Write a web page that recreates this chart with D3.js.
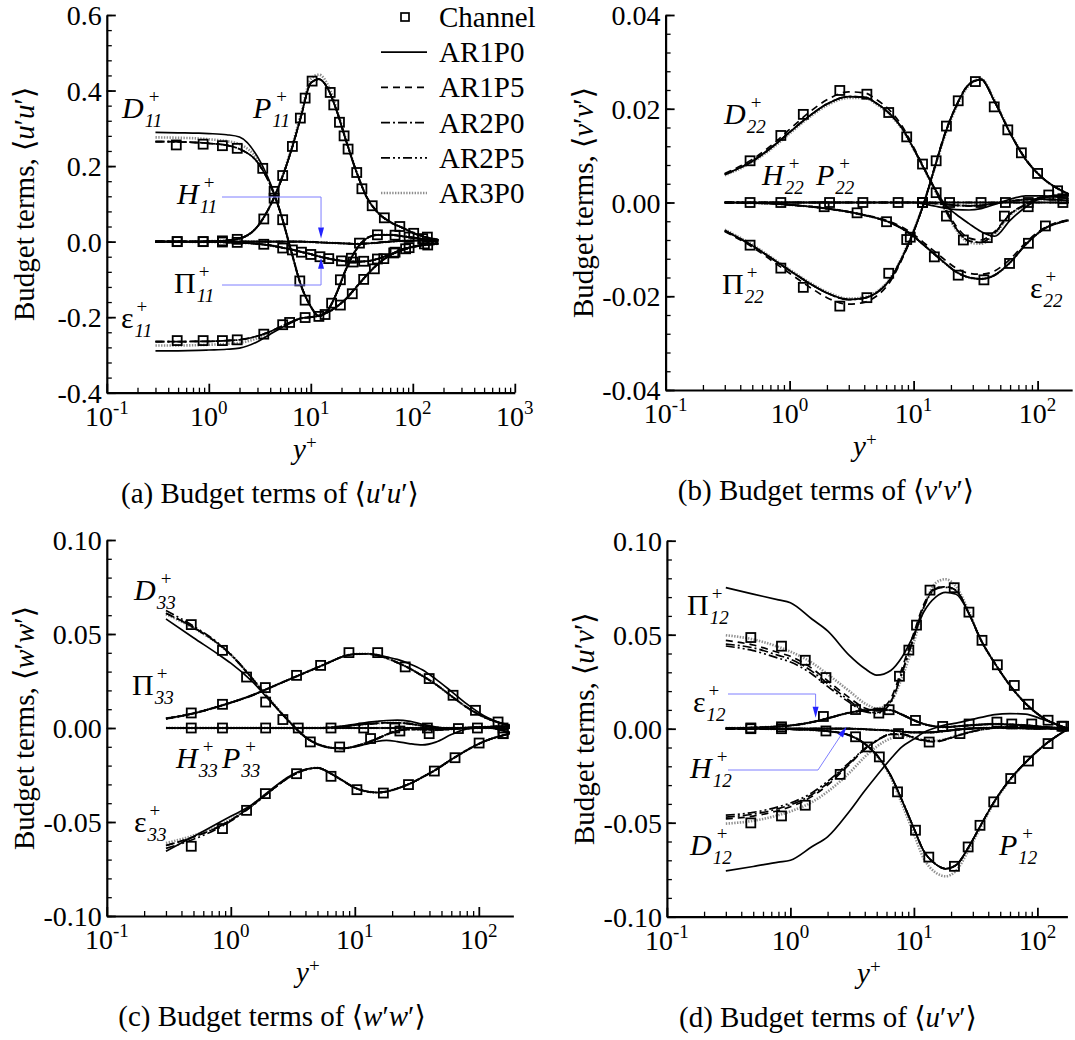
<!DOCTYPE html>
<html>
<head>
<meta charset="utf-8">
<title>Budget terms of Reynolds stresses</title>
<script src="https://cdn.jsdelivr.net/npm/d3@7/dist/d3.min.js"></script>
<style>
  html, body { margin: 0; padding: 0; background: #fff; }
  svg { display: block; background: #fff; }
  text { font-family: "Liberation Serif", "Times New Roman", Times, "DejaVu Serif", serif; fill: #000; }
</style>
</head>
<body>
<svg id="fig" width="1075" height="1040"></svg>
<script>
// ---------------------------------------------------------------------------
// Wall-normal grid of the simulation profiles (y+)
const yPlus = [0.3, 0.5, 0.8, 1.0, 1.5, 2, 3, 4, 5, 6.5, 8, 10, 12, 15, 18, 22, 28, 35, 45, 60, 80, 110, 178];
const caseNames = ["AR1P0", "AR1P5", "AR2P0", "AR2P5", "AR3P0"];

// ---- <u'u'> budget --------------------------------------------------------
const uuP       = [0,0,0,0.001,0.003,0.008,0.04,0.095,0.155,0.245,0.33,0.42,0.43,0.40,0.345,0.27,0.185,0.12,0.078,0.052,0.036,0.019,0.005];
const uuP_AR3P0 = [0,0,0,0.001,0.003,0.008,0.04,0.095,0.157,0.25,0.338,0.43,0.442,0.41,0.35,0.272,0.186,0.12,0.078,0.052,0.036,0.019,0.005];
const uuD_AR1P0 = [0.289,0.288,0.287,0.286,0.283,0.277,0.225,0.155,0.08,-0.03,-0.115,-0.172,-0.197,-0.178,-0.135,-0.075,-0.02,0.008,0.018,0.018,0.014,0.009,0.004];
const uuD_mid   = [0.265,0.264,0.262,0.26,0.255,0.245,0.21,0.15,0.08,-0.03,-0.115,-0.172,-0.197,-0.178,-0.135,-0.075,-0.02,0.008,0.018,0.018,0.014,0.009,0.004];
const uuD_AR3P0 = [0.276,0.275,0.273,0.271,0.266,0.258,0.218,0.153,0.08,-0.03,-0.115,-0.172,-0.197,-0.178,-0.135,-0.075,-0.02,0.008,0.018,0.018,0.014,0.009,0.004];
const uuE_AR1P0 = [-0.289,-0.289,-0.288,-0.287,-0.285,-0.282,-0.265,-0.245,-0.23,-0.214,-0.203,-0.2,-0.196,-0.186,-0.172,-0.152,-0.12,-0.09,-0.06,-0.036,-0.02,-0.012,-0.006];
const uuE_mid   = [-0.265,-0.265,-0.264,-0.264,-0.262,-0.26,-0.25,-0.238,-0.226,-0.212,-0.203,-0.2,-0.196,-0.186,-0.172,-0.152,-0.12,-0.09,-0.06,-0.036,-0.02,-0.012,-0.006];
const uuE_AR3P0 = [-0.275,-0.275,-0.274,-0.273,-0.271,-0.268,-0.256,-0.241,-0.228,-0.213,-0.203,-0.2,-0.196,-0.186,-0.172,-0.152,-0.12,-0.09,-0.06,-0.036,-0.02,-0.012,-0.006];
const uuPi      = [0,0,-0.001,-0.001,-0.002,-0.003,-0.006,-0.01,-0.015,-0.021,-0.027,-0.033,-0.039,-0.045,-0.049,-0.052,-0.053,-0.052,-0.046,-0.034,-0.022,-0.011,-0.003];
const uuH       = [0,0,0,0,0,0,0,0,0,0,0,-0.001,-0.002,-0.003,-0.004,-0.005,-0.006,-0.005,-0.003,0,0.002,0.003,0.001];

const chUU_P_y  = [0.49,0.88,1.36,1.9,3.46,4.37,5.3,6.6,7.9,8.8,10.3,15.5,16.8,19.1,21.2,23.2,28.2,31.7,40,52.6,74.6,102,139];
const chUU_P    = [0,0,0.002,0.006,0.06,0.115,0.175,0.252,0.327,0.38,0.425,0.395,0.362,0.316,0.28,0.245,0.183,0.14,0.095,0.063,0.04,0.022,0.012];
const chUU_D_y  = [0.48,0.88,1.36,1.9,3.38,4.37,5.3,7.8,8.8,12,16,19.5,25,30,45,67,92,125];
const chUU_D    = [0.256,0.258,0.254,0.247,0.194,0.133,0.058,-0.104,-0.155,-0.198,-0.163,-0.101,-0.044,-0.004,0.018,0.017,0.012,0.008];
const chUU_E_y  = [0.49,0.88,1.36,1.9,3.46,5.3,6.2,8.8,13.8,19.5,25.5,33,42,52,65,85,140];
const chUU_E    = [-0.262,-0.262,-0.262,-0.26,-0.245,-0.22,-0.214,-0.201,-0.193,-0.168,-0.138,-0.1,-0.072,-0.045,-0.03,-0.019,-0.009];
const chUU_Pi_y = [0.49,0.88,1.36,1.9,3.46,5.3,6.6,8.1,10,12.3,15,20,26,33,45,67,92,130];
const chUU_Pi   = [0,0,-0.001,-0.002,-0.007,-0.017,-0.022,-0.028,-0.034,-0.04,-0.045,-0.051,-0.054,-0.052,-0.046,-0.028,-0.016,-0.006];

// ---- <v'v'> budget --------------------------------------------------------
const vvD_AR1P0 = [0.006,0.0088,0.0128,0.015,0.0188,0.021,0.0226,0.0225,0.0212,0.0188,0.016,0.0115,0.0075,0.0028,-0.0005,-0.0025,-0.0045,-0.0062,-0.0072,-0.0038,-0.001,0.001,0.0014];
const vvD_AR1P5 = [0.0062,0.0092,0.0133,0.0156,0.0196,0.0219,0.0236,0.0234,0.022,0.0195,0.0165,0.0118,0.0077,0.0027,-0.0012,-0.005,-0.0076,-0.008,-0.0062,-0.0024,-0.0004,0.0012,0.0015];
const vvD_mid   = [0.006,0.0088,0.0128,0.015,0.0188,0.021,0.0226,0.0225,0.0212,0.0188,0.016,0.0115,0.0075,0.0025,-0.0015,-0.0055,-0.0082,-0.0085,-0.0065,-0.0025,-0.0005,0.0012,0.0015];
const vvD_AR3P0 = [0.0058,0.0086,0.0125,0.0147,0.0185,0.0207,0.0223,0.0223,0.021,0.0186,0.0158,0.0114,0.0074,0.0024,-0.0017,-0.0058,-0.0085,-0.0088,-0.0068,-0.0027,-0.0006,0.0011,0.0016];
const vvPi_AR1P5 = [-0.0062,-0.0095,-0.0133,-0.0151,-0.0183,-0.0203,-0.0217,-0.0213,-0.02,-0.0168,-0.0123,-0.0063,-0.0004,0.0082,0.015,0.0206,0.0253,0.0263,0.0216,0.0149,0.0093,0.0052,0.0018];
const vvPi_mid   = [-0.006,-0.0092,-0.0128,-0.0145,-0.0175,-0.0193,-0.0207,-0.0204,-0.0193,-0.0163,-0.012,-0.0062,-0.0005,0.008,0.0148,0.0205,0.0252,0.0262,0.0215,0.0148,0.0092,0.0052,0.0018];
const vvPi_AR3P0 = [-0.0058,-0.009,-0.0126,-0.0143,-0.0173,-0.0191,-0.0205,-0.0202,-0.0191,-0.0161,-0.0118,-0.006,-0.0004,0.0078,0.0145,0.0202,0.025,0.0264,0.0218,0.015,0.0093,0.0052,0.0018];
const vvE_AR1P5 = [0,-0.0001,-0.0003,-0.0005,-0.0009,-0.0013,-0.002,-0.0026,-0.0032,-0.0041,-0.0052,-0.0068,-0.0085,-0.0106,-0.0123,-0.014,-0.0151,-0.0153,-0.0146,-0.0121,-0.0086,-0.0056,-0.0037];
const vvE_mid   = [0,-0.0001,-0.0003,-0.0005,-0.0009,-0.0013,-0.002,-0.0027,-0.0033,-0.0043,-0.0055,-0.0072,-0.009,-0.0112,-0.013,-0.0148,-0.016,-0.0163,-0.0155,-0.0128,-0.009,-0.0058,-0.0038];
const vvP       = [0,0,0,0,0,0,0,0,0,0,0,0,0,0,0,0,0,0,0,0,0,0,0];
const vvH_AR1P0 = [0,0,0,0,0,0,0,0,0,0,0,0,-0.0003,-0.0008,-0.0012,-0.0015,-0.0016,-0.0013,-0.0004,0.0007,0.0014,0.0014,0.0008];
const vvH_mid   = [0,0,0,0,0,0,0,0,0,0,0,0,0,-0.0002,-0.0004,-0.0006,-0.0007,-0.0006,-0.0002,0.0003,0.0006,0.0007,0.0004];

const chVV_D_y  = [0.48,0.85,1.29,2.54,4.2,6.3,8.8,11.8,15.2,18.4,25.2,39.3,54,84,123,160];
const chVV_D    = [0.0089,0.0143,0.0188,0.0239,0.0231,0.0192,0.014,0.0082,0.0021,-0.0029,-0.008,-0.0075,-0.0029,-0.0009,0.0016,0.0008];
const chVV_Pi_y = [0.48,0.85,1.29,2.54,4.2,6.3,8.8,11.8,15.2,18.4,22.9,31.5,44.7,57.5,74,100,145];
const chVV_Pi   = [-0.0091,-0.014,-0.0181,-0.0221,-0.0203,-0.0151,-0.0079,0,0.0089,0.0163,0.0217,0.0258,0.0204,0.0155,0.0106,0.0062,0.0025];
const chVV_E_y  = [1.9,3.5,6.05,9.4,14.7,22.9,36.9,59.4,84.3,115.6];
const chVV_E    = [-0.0009,-0.0022,-0.0041,-0.0074,-0.0116,-0.0155,-0.0165,-0.013,-0.0087,-0.005];
const chVV_P_y  = [0.48,0.85,2.1,3.9,7.5,11.8,19.5,35,55,84,160];
const chVV_P    = [0,0,0,0,0,0,0,0,0,0,0];

// ---- <w'w'> budget --------------------------------------------------------
const wwD_AR1P0 = [0.058,0.048,0.039,0.0345,0.0245,0.0155,0.003,-0.0048,-0.0088,-0.0106,-0.0108,-0.01,-0.0088,-0.0072,-0.0066,-0.0072,-0.0084,-0.009,-0.0075,-0.0035,-0.0005,0.0005,-0.0025];
const wwD_mid   = [0.061,0.0535,0.0445,0.039,0.026,0.016,0.003,-0.005,-0.0085,-0.0105,-0.0108,-0.0098,-0.0082,-0.0058,-0.0035,-0.0015,-0.0008,-0.0008,-0.001,-0.0006,0.0002,0.0005,-0.0025];
const wwD_AR2P5 = [0.0625,0.0542,0.0449,0.0392,0.0261,0.016,0.003,-0.005,-0.0085,-0.0105,-0.0108,-0.0098,-0.0082,-0.0058,-0.0035,-0.0015,-0.0008,-0.0008,-0.001,-0.0006,0.0002,0.0005,-0.0025];
const wwD_AR3P0 = [0.0605,0.0532,0.0445,0.039,0.0262,0.0162,0.0032,-0.0048,-0.0085,-0.0105,-0.0108,-0.0098,-0.0082,-0.0058,-0.0035,-0.0015,-0.0008,-0.0008,-0.001,-0.0006,0.0002,0.0005,-0.0025];
const wwPi_AR1P0 = [0.005,0.0078,0.0115,0.0135,0.0175,0.021,0.026,0.0295,0.0322,0.0355,0.038,0.0393,0.0395,0.039,0.0378,0.0365,0.034,0.031,0.026,0.0195,0.0128,0.0065,0.001];
const wwPi_mid   = [0.005,0.0078,0.0115,0.0135,0.0175,0.021,0.026,0.0295,0.0322,0.0355,0.038,0.0393,0.0395,0.0388,0.0372,0.0348,0.0315,0.0278,0.0232,0.017,0.011,0.0058,0.0015];
const wwE_AR1P0 = [-0.0655,-0.0577,-0.0504,-0.047,-0.0405,-0.034,-0.0255,-0.022,-0.0212,-0.0245,-0.028,-0.0318,-0.0335,-0.0343,-0.0338,-0.0322,-0.0295,-0.0262,-0.0222,-0.0168,-0.0118,-0.0072,-0.003];
const wwE_mid   = [-0.0625,-0.058,-0.0525,-0.049,-0.041,-0.0345,-0.026,-0.0222,-0.0212,-0.0245,-0.028,-0.0318,-0.0335,-0.0343,-0.0338,-0.0322,-0.0295,-0.0262,-0.0222,-0.0168,-0.0118,-0.0072,-0.003];
const wwE_AR2P5 = [-0.064,-0.0592,-0.0532,-0.0495,-0.0413,-0.0346,-0.026,-0.0222,-0.0212,-0.0245,-0.028,-0.0318,-0.0335,-0.0343,-0.0338,-0.0322,-0.0295,-0.0262,-0.0222,-0.0168,-0.0118,-0.0072,-0.003];
const wwE_AR3P0 = [-0.0612,-0.0572,-0.052,-0.0486,-0.0408,-0.0343,-0.0259,-0.0222,-0.0212,-0.0245,-0.028,-0.0318,-0.0335,-0.0343,-0.0338,-0.0322,-0.0295,-0.0262,-0.0222,-0.0168,-0.0118,-0.0072,-0.003];
const wwH_AR1P0 = [0,0,0,0,0,0,0,0,0,0.0004,0.001,0.002,0.0028,0.0035,0.004,0.0042,0.0035,0.002,0.0005,-0.0002,-0.0001,0.0005,0.001];
const wwH_mid   = [0,0,0,0,0,0,0,0,0,0.0003,0.0008,0.0015,0.002,0.0025,0.0028,0.0028,0.0022,0.0012,0.0003,-0.0003,-0.0002,0.0005,0.001];
const wwP       = [0,0,0,0,0,0,0,0,0,0,0,0,0,0,0,0,0,0,0,0,0,0,0];

const chWW_D_y  = [0.48,0.857,1.34,1.91,2.63,4.38,7.55,13.4,23.1,39.8,68.5,157];
const chWW_D    = [0.055,0.0413,0.0271,0.0138,0.0045,-0.0074,-0.0101,-0.0056,-0.0016,-0.003,-0.0003,-0.003];
const chWW_Pi_y = [0.48,0.857,1.9,3.39,5.3,8.97,15.3,25.5,39.8,62,94,143];
const chWW_Pi   = [0.008,0.0126,0.0215,0.028,0.0333,0.0401,0.0401,0.0325,0.0263,0.0174,0.0094,0.0032];
const chWW_E_y  = [0.48,0.857,1.34,1.9,3.39,6.43,10.4,17,27.1,43.8,64.3,100.6,157];
const chWW_E    = [-0.0629,-0.0535,-0.0438,-0.0349,-0.0243,-0.0257,-0.0328,-0.0346,-0.0301,-0.0229,-0.0158,-0.008,-0.003];
const chWW_P_y  = [0.48,0.857,1.91,3.5,6.43,11.8,21,38.5,97.5,157];
const chWW_P    = [0,0,0,0,0,0,0,0,0,0];

// ---- <u'v'> budget --------------------------------------------------------
const uvPi_AR1P0 = [0.075,0.0716,0.0685,0.067,0.0582,0.052,0.039,0.032,0.0285,0.031,0.038,0.05,0.062,0.07,0.0725,0.0715,0.061,0.047,0.035,0.023,0.0135,0.006,0];
const uvPi_AR1P5 = [0.047,0.0445,0.0405,0.0385,0.032,0.0255,0.0165,0.011,0.0095,0.016,0.032,0.051,0.066,0.075,0.0755,0.0735,0.061,0.047,0.035,0.023,0.0135,0.006,0];
const uvPi_AR2P0 = [0.045,0.043,0.039,0.037,0.0305,0.024,0.015,0.0095,0.0085,0.0145,0.03,0.049,0.065,0.0745,0.0755,0.0735,0.061,0.047,0.035,0.023,0.0135,0.006,0];
const uvPi_AR2P5 = [0.044,0.0415,0.0375,0.0355,0.029,0.0225,0.014,0.009,0.0082,0.014,0.0295,0.0485,0.0645,0.0742,0.0752,0.0732,0.061,0.047,0.035,0.023,0.0135,0.006,0];
const uvPi_AR3P0 = [0.0497,0.0475,0.0435,0.041,0.035,0.029,0.02,0.0135,0.0108,0.0145,0.027,0.046,0.064,0.0775,0.0795,0.0755,0.062,0.047,0.035,0.023,0.0135,0.006,0];
const uvD_AR1P0 = [-0.0757,-0.0733,-0.071,-0.07,-0.0627,-0.0575,-0.044,-0.033,-0.025,-0.016,-0.0097,-0.0055,-0.002,0.0005,0.002,0.003,0.0045,0.006,0.0075,0.008,0.0078,0.005,0];
const uvD_AR1P5 = [-0.048,-0.0465,-0.0435,-0.0415,-0.036,-0.03,-0.019,-0.011,-0.0065,-0.003,-0.003,-0.005,-0.0065,-0.007,-0.006,-0.004,-0.002,-0.0005,0.0005,0.001,0.001,0.0005,0];
const uvD_AR2P0 = [-0.047,-0.0455,-0.0425,-0.0405,-0.035,-0.029,-0.0185,-0.0108,-0.0064,-0.003,-0.0029,-0.0048,-0.0062,-0.0067,-0.0058,-0.0039,-0.002,-0.0005,0.0005,0.001,0.001,0.0005,0];
const uvD_AR2P5 = [-0.046,-0.0445,-0.0415,-0.0395,-0.034,-0.028,-0.018,-0.0105,-0.0062,-0.0029,-0.0028,-0.0046,-0.006,-0.0065,-0.0056,-0.0038,-0.0019,-0.0005,0.0005,0.001,0.001,0.0005,0];
const uvD_AR3P0 = [-0.0505,-0.049,-0.046,-0.044,-0.039,-0.0335,-0.0235,-0.015,-0.0095,-0.0052,-0.0038,-0.0048,-0.006,-0.0065,-0.0056,-0.0038,-0.0019,-0.0005,0.0005,0.001,0.001,0.0005,0];
const uvP_mid   = [0,0,-0.0002,-0.0003,-0.0007,-0.0013,-0.0035,-0.008,-0.014,-0.025,-0.038,-0.053,-0.065,-0.072,-0.0745,-0.0725,-0.0625,-0.051,-0.0385,-0.027,-0.018,-0.0095,0];
const uvP_AR3P0 = [0,0,-0.0002,-0.0003,-0.0007,-0.0013,-0.0035,-0.0082,-0.0145,-0.026,-0.04,-0.056,-0.069,-0.0765,-0.0785,-0.0755,-0.064,-0.052,-0.039,-0.0275,-0.018,-0.0095,0];
const uvE_mid   = [0.0003,0.0006,0.0012,0.0017,0.0035,0.0055,0.0085,0.0097,0.0102,0.0098,0.0075,0.0045,0.0025,0.0012,0.0008,0.0012,0.0018,0.0022,0.0025,0.0022,0.0018,0.001,0];
const uvH       = [0,0,0,0,0,0,0,-0.0003,-0.0006,-0.001,-0.0015,-0.002,-0.002,-0.0018,-0.0012,-0.0006,0,0.0004,0.0005,0.0004,0.0002,0,0];

const chUV_Pi_y = [0.478,0.847,1.32,1.94,5.2,7.64,9.1,10.5,13.5,21.2,27.9,35.6,47.4,65,84.6,122,158];
const chUV_Pi   = [0.0485,0.0439,0.0364,0.0272,0.0083,0.0279,0.0418,0.0551,0.0737,0.075,0.062,0.047,0.034,0.023,0.013,0.0045,0.0013];
const chUV_D_y  = [0.478,0.847,1.32,2.53,7.5,13.3,23.6];
const chUV_D    = [-0.0501,-0.0464,-0.0407,-0.0243,-0.0026,-0.0071,-0.0026];
const chUV_P_y  = [0.478,0.847,1.94,3.37,4.2,5.25,7.37,10.3,13.2,21.3,27.5,34.3,44.3,60.8,84.6,122,163];
const chUV_P    = [0,0,-0.0012,-0.0043,-0.0097,-0.015,-0.0336,-0.054,-0.0683,-0.0732,-0.0629,-0.0514,-0.0389,-0.0265,-0.0172,-0.0079,0.0013];
const chUV_E_y  = [0.478,0.847,1.85,3.37,6.3,10.3,17.1,28,47,62,90];
const chUV_E    = [0.0004,0.001,0.0065,0.0102,0.0101,0.0044,0.0012,0.0025,0.0035,0.0025,0.0025];

// ---- tick values and labels ----------------------------------------------
const uuTicks = [-0.4, -0.2, 0, 0.2, 0.4, 0.6];
const uuTickLabels = ["-0.4", "-0.2", "0.0", "0.2", "0.4", "0.6"];
const vvTicks = [-0.04, -0.02, 0, 0.02, 0.04];
const vvTickLabels = ["-0.04", "-0.02", "0.00", "0.02", "0.04"];
const wTicks = [-0.1, -0.05, 0, 0.05, 0.1];
const wTickLabels = ["-0.10", "-0.05", "0.00", "0.05", "0.10"];
const xDecadesA = [0.1, 1, 10, 100, 1000];
const xDecadesB = [0.1, 1, 10, 100];
const xExponentsA = ["-1", "0", "1", "2", "3"];
const xExponentsB = ["-1", "0", "1", "2"];

// ---------------------------------------------------------------------------
const svg = d3.select("#fig");
const FS = 29;        // titles, captions, legend
const TICK_FS = 28;   // tick labels
const SQ = 9;         // channel marker size
const caseStyle = {
  AR1P0: { stroke: "#000", width: 1.7, dash: null },
  AR1P5: { stroke: "#000", width: 1.7, dash: "7,5" },
  AR2P0: { stroke: "#000", width: 1.7, dash: "9,3,2,3" },
  AR2P5: { stroke: "#000", width: 1.7, dash: "9,3,2,3,2,3" },
  AR3P0: { stroke: "#8e8e8e", width: 2.6, dash: "1.4,1.4" }
};
const drawOrder = ["AR3P0", "AR2P5", "AR2P0", "AR1P5", "AR1P0"];
const BLUE_LINE = "#7f7fff", BLUE_HEAD = "#2323ff";

function mathText(sel, parts) {
  parts.forEach(([s, it]) => sel.append("tspan").attr("font-style", it ? "italic" : "normal").text(s));
  return sel;
}

// symbol with stacked superscript "+" and italic subscript, e.g. D_11^+
function termLabel(g, x, y, main, sub, italic) {
  const t = g.append("text").attr("x", x).attr("y", y).attr("font-size", 30)
    .attr("font-style", italic ? "italic" : "normal").text(main);
  const w = t.node().getComputedTextLength();
  g.append("text").attr("x", x + w + (italic ? 5 : 3)).attr("y", y - 15).attr("font-size", 19).text("+");
  g.append("text").attr("x", x + w + 1).attr("y", y + 9).attr("font-size", 19)
    .attr("font-style", "italic").text(sub);
}

function arrow(g, pts) {
  const n = pts.length;
  const [tx, ty] = pts[n - 1], [px, py] = pts[n - 2];
  const a = Math.atan2(ty - py, tx - px), L = 11, W = 3;
  const bx = tx - L * Math.cos(a), by = ty - L * Math.sin(a);
  g.append("path").attr("d", d3.line()(pts.slice(0, n - 1).concat([[bx, by]])))
    .attr("fill", "none").attr("stroke", BLUE_LINE).attr("stroke-width", 1);
  const head = [[tx, ty], [bx - W * Math.sin(a), by + W * Math.cos(a)], [bx + W * Math.sin(a), by - W * Math.cos(a)]];
  g.append("path").attr("d", d3.line()(head) + "Z").attr("fill", BLUE_HEAD);
}

function buildPanel(cfg) {
  const g = svg.append("g");
  const right = cfg.left + cfg.decade * (Math.log10(cfg.xMax) + 1);
  const x = d3.scaleLog().domain([0.1, cfg.xMax]).range([cfg.left, right]);
  const y = d3.scaleLinear().domain([cfg.yTicks[0], cfg.yTicks[cfg.yTicks.length - 1]]).range([cfg.bottom, cfg.top]);

  // minor ticks
  const yMinor = d3.range(cfg.yTicks[0], cfg.yTicks[cfg.yTicks.length - 1] + cfg.yMinorStep / 2, cfg.yMinorStep);
  const xMinor = [];
  for (let e = -1; e <= 3; e++) for (let k = 2; k <= 9; k++) { const v = k * Math.pow(10, e); if (v <= cfg.xMax) xMinor.push(v); }

  g.append("g").attr("transform", `translate(${cfg.left},0)`)
    .call(d3.axisLeft(y).tickValues(yMinor).tickSize(-5).tickFormat(""))
    .call(a => { a.select(".domain").remove(); a.selectAll("line").attr("stroke-width", 1.3); });
  g.append("g").attr("transform", `translate(0,${cfg.bottom})`)
    .call(d3.axisBottom(x).tickValues(xMinor).tickSize(-5).tickFormat(""))
    .call(a => { a.select(".domain").remove(); a.selectAll("line").attr("stroke-width", 1.3); });
  g.append("g").attr("transform", `translate(${cfg.left},0)`)
    .call(d3.axisLeft(y).tickValues(cfg.yTicks).tickSize(-9).tickSizeOuter(0).tickFormat(""))
    .call(a => { a.select(".domain").attr("stroke-width", 2.2); a.selectAll("line").attr("stroke-width", 1.8); });
  g.append("g").attr("transform", `translate(0,${cfg.bottom})`)
    .call(d3.axisBottom(x).tickValues(cfg.xDecades).tickSize(-9).tickSizeOuter(0).tickFormat(""))
    .call(a => { a.select(".domain").attr("stroke-width", 2.2); a.selectAll("line").attr("stroke-width", 1.8); });

  // tick labels
  cfg.yTicks.forEach((v, i) => {
    g.append("text").attr("x", cfg.left - 5).attr("y", y(v) + 10).attr("text-anchor", "end")
      .attr("font-size", TICK_FS).text(cfg.yTickLabels[i]);
  });
  cfg.xDecades.forEach((v, i) => {
    const t = g.append("text").attr("x", x(v)).attr("y", cfg.bottom + 33).attr("text-anchor", "middle").attr("font-size", TICK_FS);
    t.append("tspan").text("10");
    t.append("tspan").attr("font-size", 19).attr("dy", -12).text(cfg.xExponents[i]);
  });

  // axis titles and caption
  const yt = g.append("text").attr("text-anchor", "middle").attr("font-size", FS)
    .attr("transform", `translate(${cfg.left - 73},${(cfg.top + cfg.bottom) / 2}) rotate(-90)`);
  mathText(yt, [["Budget terms, \u27E8", false], [cfg.v1, true], ["\u2032", false], [cfg.v2, true], ["\u2032\u27E9", false]]);
  const xt = g.append("text").attr("x", cfg.yPlusX).attr("y", cfg.bottom + 66).attr("font-size", FS);
  xt.append("tspan").attr("font-style", "italic").text("y");
  xt.append("tspan").attr("font-size", 19).attr("dy", -10).text("+");
  const cap = g.append("text").attr("x", cfg.captionX).attr("y", cfg.bottom + 110)
    .attr("text-anchor", "middle").attr("font-size", FS);
  mathText(cap, [[cfg.tag + " Budget terms of \u27E8", false], [cfg.v1, true], ["\u2032", false], [cfg.v2, true], ["\u2032\u27E9", false]]);

  // simulation profiles
  const line = d3.line().x((d, i) => x(yPlus[i])).y(d => y(d)).curve(d3.curveMonotoneX);
  drawOrder.forEach(c => {
    cfg.curves.filter(s => s[0] === c).forEach(s => {
      const st = caseStyle[c];
      g.append("path").attr("d", line(s[1])).attr("fill", "none")
        .attr("stroke", st.stroke).attr("stroke-width", st.width)
        .attr("stroke-dasharray", st.dash).attr("stroke-linejoin", "round");
    });
  });

  // plain channel reference (open squares)
  cfg.channel.forEach(([xs, vs]) => {
    g.selectAll(null).data(xs.map((xv, i) => [xv, vs[i]])).enter().append("rect")
      .attr("x", d => x(d[0]) - SQ / 2).attr("y", d => y(d[1]) - SQ / 2)
      .attr("width", SQ).attr("height", SQ)
      .attr("fill", "none").attr("stroke", "#000").attr("stroke-width", 1.8);
  });

  cfg.labels.forEach(l => termLabel(g, l[0], l[1], l[2], l[3], l[4]));
  return { g, x, y };
}

// ---- (a) <u'u'> -----------------------------------------------------------
const A = buildPanel({
  left: 106.8, decade: 102, xMax: 1000, top: 15, bottom: 392.7,
  yTicks: uuTicks, yTickLabels: uuTickLabels, yMinorStep: 0.04,
  xDecades: xDecadesA, xExponents: xExponentsA,
  v1: "u", v2: "u", tag: "(a)", yPlusX: 293, captionX: 270,
  curves: [
    ["AR1P0", uuP], ["AR1P5", uuP], ["AR2P0", uuP], ["AR2P5", uuP], ["AR3P0", uuP_AR3P0],
    ["AR1P0", uuD_AR1P0], ["AR1P5", uuD_mid], ["AR2P0", uuD_mid], ["AR2P5", uuD_mid], ["AR3P0", uuD_AR3P0],
    ["AR1P0", uuE_AR1P0], ["AR1P5", uuE_mid], ["AR2P0", uuE_mid], ["AR2P5", uuE_mid], ["AR3P0", uuE_AR3P0],
    ["AR1P0", uuPi], ["AR1P5", uuPi], ["AR2P0", uuPi], ["AR2P5", uuPi], ["AR3P0", uuPi],
    ["AR1P0", uuH], ["AR1P5", uuH], ["AR2P0", uuH], ["AR2P5", uuH], ["AR3P0", uuH]
  ],
  channel: [[chUU_P_y, chUU_P], [chUU_D_y, chUU_D], [chUU_E_y, chUU_E], [chUU_Pi_y, chUU_Pi]],
  labels: [
    [122, 118, "D", "11", true], [253, 118, "P", "11", true], [177, 204, "H", "11", true],
    [174, 293, "\u03A0", "11", false], [121, 328, "\u03B5", "11", false]
  ]
});
// callouts for H11 and Pi11
const uuArrowAt = 12.6;
arrow(A.g, [[222, 197], [A.x(uuArrowAt), 197], [A.x(uuArrowAt), A.y(-0.0022) - 4]]);
arrow(A.g, [[222, 285], [A.x(uuArrowAt), 285], [A.x(uuArrowAt), A.y(-0.040) + 1]]);

// legend
(function legend() {
  const g = svg.append("g");
  const rows = [["Channel", null]].concat(caseNames.map(c => [c, c]));
  rows.forEach(([name, c], i) => {
    const cy = 17 + i * 35.2;
    if (c === null) {
      g.append("rect").attr("x", 401).attr("y", cy - 4).attr("width", 8).attr("height", 8)
        .attr("fill", "none").attr("stroke", "#000").attr("stroke-width", 1.7);
    } else {
      const st = caseStyle[c];
      g.append("line").attr("x1", 381).attr("x2", 427).attr("y1", cy).attr("y2", cy)
        .attr("stroke", st.stroke).attr("stroke-width", st.width).attr("stroke-dasharray", st.dash);
    }
    g.append("text").attr("x", 439).attr("y", cy + 10).attr("font-size", FS).text(name);
  });
})();

// ---- (b) <v'v'> -----------------------------------------------------------
buildPanel({
  left: 665.6, decade: 124, xMax: 190, top: 15, bottom: 390,
  yTicks: vvTicks, yTickLabels: vvTickLabels, yMinorStep: 0.004,
  xDecades: xDecadesB, xExponents: xExponentsB,
  v1: "v", v2: "v", tag: "(b)", yPlusX: 853, captionX: 826,
  curves: [
    ["AR1P0", vvD_AR1P0], ["AR1P5", vvD_AR1P5], ["AR2P0", vvD_mid], ["AR2P5", vvD_mid], ["AR3P0", vvD_AR3P0],
    ["AR1P0", vvPi_mid], ["AR1P5", vvPi_AR1P5], ["AR2P0", vvPi_mid], ["AR2P5", vvPi_mid], ["AR3P0", vvPi_AR3P0],
    ["AR1P0", vvE_mid], ["AR1P5", vvE_AR1P5], ["AR2P0", vvE_mid], ["AR2P5", vvE_mid], ["AR3P0", vvE_mid],
    ["AR1P0", vvP], ["AR1P5", vvP], ["AR2P0", vvP], ["AR2P5", vvP], ["AR3P0", vvP],
    ["AR1P0", vvH_AR1P0], ["AR1P5", vvH_mid], ["AR2P0", vvH_mid], ["AR2P5", vvH_mid], ["AR3P0", vvH_mid]
  ],
  channel: [[chVV_D_y, chVV_D], [chVV_Pi_y, chVV_Pi], [chVV_E_y, chVV_E], [chVV_P_y, chVV_P]],
  labels: [
    [724, 124, "D", "22", true], [762, 185, "H", "22", true], [816, 185, "P", "22", true],
    [722, 294, "\u03A0", "22", false], [1030, 298, "\u03B5", "22", false]
  ]
});

// ---- (c) <w'w'> -----------------------------------------------------------
buildPanel({
  left: 106.8, decade: 124, xMax: 190, top: 540, bottom: 916,
  yTicks: wTicks, yTickLabels: wTickLabels, yMinorStep: 0.01,
  xDecades: xDecadesB, xExponents: xExponentsB,
  v1: "w", v2: "w", tag: "(c)", yPlusX: 296, captionX: 272,
  curves: [
    ["AR1P0", wwD_AR1P0], ["AR1P5", wwD_mid], ["AR2P0", wwD_mid], ["AR2P5", wwD_AR2P5], ["AR3P0", wwD_AR3P0],
    ["AR1P0", wwPi_AR1P0], ["AR1P5", wwPi_mid], ["AR2P0", wwPi_mid], ["AR2P5", wwPi_mid], ["AR3P0", wwPi_mid],
    ["AR1P0", wwE_AR1P0], ["AR1P5", wwE_mid], ["AR2P0", wwE_mid], ["AR2P5", wwE_AR2P5], ["AR3P0", wwE_AR3P0],
    ["AR1P0", wwP], ["AR1P5", wwP], ["AR2P0", wwP], ["AR2P5", wwP], ["AR3P0", wwP],
    ["AR1P0", wwH_AR1P0], ["AR1P5", wwH_mid], ["AR2P0", wwH_mid], ["AR2P5", wwH_mid], ["AR3P0", wwH_mid]
  ],
  channel: [[chWW_D_y, chWW_D], [chWW_Pi_y, chWW_Pi], [chWW_E_y, chWW_E], [chWW_P_y, chWW_P]],
  labels: [
    [134, 600, "D", "33", true], [132, 695, "\u03A0", "33", false], [176, 768, "H", "33", true],
    [222, 768, "P", "33", true], [134, 832, "\u03B5", "33", false]
  ]
});

// ---- (d) <u'v'> -----------------------------------------------------------
const Dp = buildPanel({
  left: 666.9, decade: 123.5, xMax: 175, top: 540.7, bottom: 916.7,
  yTicks: wTicks, yTickLabels: wTickLabels, yMinorStep: 0.01,
  xDecades: xDecadesB, xExponents: xExponentsB,
  v1: "u", v2: "v", tag: "(d)", yPlusX: 857, captionX: 828,
  curves: [
    ["AR1P0", uvPi_AR1P0], ["AR1P5", uvPi_AR1P5], ["AR2P0", uvPi_AR2P0], ["AR2P5", uvPi_AR2P5], ["AR3P0", uvPi_AR3P0],
    ["AR1P0", uvD_AR1P0], ["AR1P5", uvD_AR1P5], ["AR2P0", uvD_AR2P0], ["AR2P5", uvD_AR2P5], ["AR3P0", uvD_AR3P0],
    ["AR1P0", uvP_mid], ["AR1P5", uvP_mid], ["AR2P0", uvP_mid], ["AR2P5", uvP_mid], ["AR3P0", uvP_AR3P0],
    ["AR1P0", uvE_mid], ["AR1P5", uvE_mid], ["AR2P0", uvE_mid], ["AR2P5", uvE_mid], ["AR3P0", uvE_mid],
    ["AR1P0", uvH], ["AR1P5", uvH], ["AR2P0", uvH], ["AR2P5", uvH], ["AR3P0", uvH]
  ],
  channel: [[chUV_Pi_y, chUV_Pi], [chUV_D_y, chUV_D], [chUV_P_y, chUV_P], [chUV_E_y, chUV_E]],
  labels: [
    [687, 615, "\u03A0", "12", false], [693, 712, "\u03B5", "12", false], [690, 778, "H", "12", true],
    [690, 855, "D", "12", true], [999, 855, "P", "12", true]
  ]
});
// callouts for eps12 and H12
arrow(Dp.g, [[728, 694], [Dp.x(1.6), 694], [Dp.x(1.6), Dp.y(0.0042) - 3]]);
arrow(Dp.g, [[728, 770], [818, 770], [Dp.x(2.85), Dp.y(0) - 2]]);
</script>
</body>
</html>
